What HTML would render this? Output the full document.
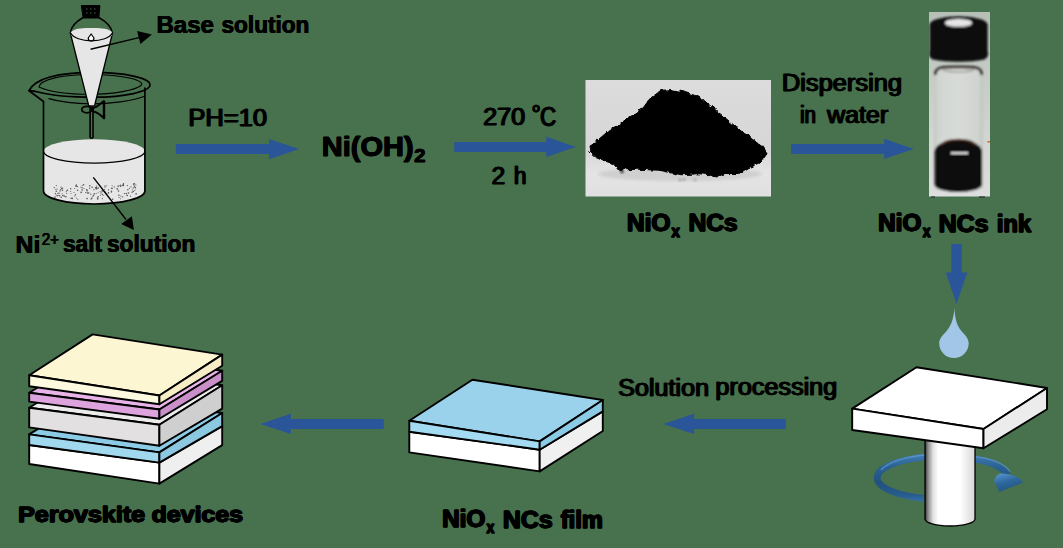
<!DOCTYPE html>
<html>
<head>
<meta charset="utf-8">
<title>NiOx NCs synthesis</title>
<style>
html,body{margin:0;padding:0;background:#48714d;}
body{width:1063px;height:548px;overflow:hidden;font-family:"Liberation Sans",sans-serif;}
svg{display:block;position:absolute;left:0;top:0;}
text{font-family:"Liberation Sans",sans-serif;fill:#000;stroke:#000;stroke-linejoin:round;}
.b{font-weight:bold;}
</style>
</head>
<body>
<svg width="1063" height="548" viewBox="0 0 1063 548">
<defs>
  <filter id="blur1" x="-10%" y="-10%" width="120%" height="120%"><feGaussianBlur stdDeviation="0.8"/></filter>
  <filter id="blur2" x="-10%" y="-10%" width="120%" height="120%"><feGaussianBlur stdDeviation="1.4"/></filter>
  <linearGradient id="photoBg" x1="0" y1="0" x2="0" y2="1">
    <stop offset="0" stop-color="#dcdcdc"/><stop offset="0.6" stop-color="#d6d6d6"/><stop offset="0.8" stop-color="#e4e4e4"/><stop offset="1" stop-color="#e0e0e0"/>
  </linearGradient>
  <linearGradient id="cyl" x1="0" y1="0" x2="1" y2="0">
    <stop offset="0" stop-color="#333"/><stop offset="0.06" stop-color="#8a8a8a"/><stop offset="0.16" stop-color="#e0e0e0"/><stop offset="0.27" stop-color="#ffffff"/><stop offset="0.7" stop-color="#ffffff"/><stop offset="1" stop-color="#d6d6d6"/>
  </linearGradient>
  <linearGradient id="ring" x1="0" y1="0" x2="1" y2="0">
    <stop offset="0" stop-color="#3b7fc0"/><stop offset="0.5" stop-color="#7fb0dc"/><stop offset="1" stop-color="#2d6fb0"/>
  </linearGradient>
  <clipPath id="vialClip"><rect x="929" y="12" width="61" height="185"/></clipPath>
  <filter id="rough" x="-5%" y="-5%" width="110%" height="110%">
    <feTurbulence type="fractalNoise" baseFrequency="0.18" numOctaves="2" seed="3" result="n"/>
    <feDisplacementMap in="SourceGraphic" in2="n" scale="5" xChannelSelector="R" yChannelSelector="G" result="d"/>
    <feGaussianBlur in="d" stdDeviation="0.60"/>
  </filter>
  <linearGradient id="vialBg" x1="0" y1="0" x2="0" y2="1">
    <stop offset="0" stop-color="#b6c0b7"/><stop offset="0.5" stop-color="#cbd0cb"/><stop offset="1" stop-color="#dedede"/>
  </linearGradient>
  <linearGradient id="glass" x1="0" y1="0" x2="1" y2="0">
    <stop offset="0" stop-color="#c2c8c2"/><stop offset="0.1" stop-color="#d2d6d2"/><stop offset="0.5" stop-color="#d8dbd8"/><stop offset="0.9" stop-color="#d0d4d0"/><stop offset="1" stop-color="#bec5be"/>
  </linearGradient>
  <linearGradient id="ringV" gradientUnits="userSpaceOnUse" x1="0" y1="452" x2="0" y2="503">
    <stop offset="0" stop-color="#4580b8"/><stop offset="0.3" stop-color="#296194"/><stop offset="0.6" stop-color="#21517f"/><stop offset="0.85" stop-color="#275c8e"/><stop offset="1" stop-color="#3a75ad"/>
  </linearGradient>
  <linearGradient id="headG" x1="0.2" y1="0" x2="0.6" y2="1">
    <stop offset="0" stop-color="#5592cc"/><stop offset="0.45" stop-color="#2d689e"/><stop offset="1" stop-color="#22527f"/>
  </linearGradient>
</defs>
<rect x="0" y="0" width="1063" height="548" fill="#48714d"/>

<!-- ===== Beaker + funnel ===== -->
<g id="beaker" stroke="#000" stroke-width="1.7" fill="none" stroke-linejoin="round" stroke-linecap="round">
  <!-- liquid -->
  <path d="M43.50 151.50 L43.50 191 A50.70 13 0 0 0 144.90 191 L144.90 151.50 Z" fill="#e6e6e6" stroke="none"/>
  <ellipse cx="94.20" cy="151.30" rx="50.70" ry="12" fill="#e6e6e6" stroke="none"/>
  <path d="M43.50 151.30 A50.70 11.80 0 0 0 144.90 151.30" stroke-width="1.10"/>
  <!-- beaker walls -->
  <path d="M29 90.70 L43.50 101.50 L43.50 191 A50.70 13 0 0 0 144.90 191 L144.90 88"/>
  <!-- rim -->
  <path d="M29 90.60 C 31 86 38 80 50 77 C 65 73 80 72.40 93 72.40 C 125 72.40 150 78 150 84.80 C 150 91.60 125 97.20 93.50 97.20 C 70 97.20 50 95 38 92 C 34 91 31 91 29 90.60 Z"/>
  <path d="M39 87 C 50 92 70 94.30 90 94.30 C 115 94.30 135 90 141 85.50 C 146 81 125 74.50 91 74.50 C 60 74.50 40 80 39 87 Z" stroke-width="1.10"/>
  <path d="M49 98.70 C 60 102 75 103.80 91.50 103.80 C 110 103.80 132 101 144 96.50" stroke-width="1.30"/>
</g>
<g id="funnel" stroke="#000" stroke-width="1.50" fill="none" stroke-linejoin="round">
  <path d="M83.20 17.50 C 77 21 71 26 70.30 33 M98.80 17.50 C 105 21 111.50 26 112.50 33"/>
  <path d="M70.30 33 L 88.80 106 L 94.50 106 L 112.50 33 Z" fill="#e6e6e6" stroke-width="1.30"/>
  <ellipse cx="91.50" cy="34.30" rx="20.60" ry="6.40" fill="#e6e6e6" stroke="none"/>
  <path d="M70.60 33 C 72 28.50 82 27.90 91.50 27.90 C 101 27.90 111 28.50 112.30 33" stroke="none" fill="#e6e6e6"/>
  <path d="M70.60 33 C 73 38 82 40.80 91.50 40.80 C 101 40.80 110 38 112.30 33" stroke-width="1.20"/>
  <path d="M81.30 5.50 L99.90 5.50 L98.80 18 L83.20 18 Z" fill="#000" stroke="#000" stroke-width="1"/>
  <path d="M86 9 L97 9 M86 13 L97 13" stroke="#48714d" stroke-width="0.90" stroke-dasharray="1.50 2.50"/>
  <path d="M91.10 34 L94 38 A2.90 2.90 0 1 1 88.20 38 Z" fill="#fff" stroke-width="1.20"/>
  <!-- stopcock -->
  <path d="M90.10 107 L90.10 138 M93 107 L93 138 M90.10 138 L93 138" stroke-width="1.60"/>
  <ellipse cx="86.80" cy="109.60" rx="5" ry="3.20" stroke-width="1.80" fill="none"/>
  <path d="M93 108 C 96 108 99 105 104 101 L 104 118.50 C 100 114 97 112 93 111.50 Z" fill="none" stroke-width="1.80"/>
  <path d="M104 101 L104 118.50" stroke-width="2.40"/>
</g>
<!-- dots in beaker -->
<g id="dots" fill="#555"><circle cx="80.9" cy="186.9" r="0.5"/><circle cx="60.0" cy="190.9" r="0.7"/><circle cx="102.4" cy="198.6" r="0.6"/><circle cx="57.1" cy="189.0" r="0.5"/><circle cx="74.0" cy="192.5" r="0.5"/><circle cx="122.6" cy="185.5" r="0.6"/><circle cx="106.3" cy="193.5" r="0.5"/><circle cx="101.9" cy="190.9" r="0.6"/><circle cx="57.9" cy="195.5" r="0.7"/><circle cx="88.8" cy="193.0" r="0.7"/><circle cx="100.5" cy="195.2" r="0.5"/><circle cx="102.3" cy="194.5" r="0.7"/><circle cx="62.1" cy="193.8" r="0.5"/><circle cx="105.4" cy="192.3" r="0.8"/><circle cx="118.5" cy="191.0" r="0.8"/><circle cx="84.0" cy="188.5" r="0.6"/><circle cx="112.0" cy="188.2" r="0.7"/><circle cx="97.6" cy="198.1" r="0.8"/><circle cx="77.9" cy="199.2" r="0.5"/><circle cx="96.5" cy="187.5" r="0.7"/><circle cx="66.6" cy="190.9" r="0.5"/><circle cx="133.8" cy="183.6" r="0.7"/><circle cx="82.2" cy="190.0" r="0.8"/><circle cx="102.1" cy="191.8" r="0.5"/><circle cx="132.4" cy="189.7" r="0.5"/><circle cx="59.0" cy="193.3" r="0.8"/><circle cx="77.6" cy="190.3" r="0.7"/><circle cx="55.9" cy="189.3" r="0.6"/><circle cx="104.7" cy="192.2" r="0.6"/><circle cx="117.8" cy="186.0" r="0.6"/><circle cx="87.0" cy="198.6" r="0.8"/><circle cx="60.7" cy="189.7" r="0.7"/><circle cx="127.3" cy="195.5" r="0.7"/><circle cx="112.6" cy="199.3" r="0.8"/><circle cx="133.5" cy="184.7" r="0.6"/><circle cx="66.6" cy="193.5" r="0.5"/><circle cx="94.3" cy="193.8" r="0.7"/><circle cx="77.4" cy="186.6" r="0.7"/><circle cx="104.6" cy="189.6" r="0.6"/><circle cx="111.3" cy="192.3" r="0.5"/><circle cx="91.9" cy="198.0" r="0.8"/><circle cx="87.0" cy="190.8" r="0.8"/><circle cx="106.6" cy="185.7" r="0.5"/><circle cx="135.7" cy="188.7" r="0.5"/><circle cx="82.2" cy="185.5" r="0.5"/><circle cx="101.0" cy="193.0" r="0.7"/><circle cx="104.9" cy="185.9" r="0.6"/><circle cx="105.0" cy="187.1" r="0.7"/><circle cx="133.3" cy="191.5" r="0.8"/><circle cx="64.2" cy="196.1" r="0.8"/><circle cx="93.9" cy="189.7" r="0.6"/><circle cx="62.5" cy="188.3" r="0.7"/><circle cx="93.7" cy="195.4" r="0.5"/><circle cx="71.0" cy="198.3" r="0.7"/><circle cx="66.2" cy="191.7" r="0.5"/><circle cx="116.9" cy="188.6" r="0.5"/><circle cx="111.8" cy="188.4" r="0.7"/><circle cx="129.4" cy="188.3" r="0.6"/><circle cx="98.2" cy="196.7" r="0.7"/><circle cx="106.8" cy="194.0" r="0.6"/><circle cx="120.9" cy="196.1" r="0.6"/><circle cx="70.6" cy="191.4" r="0.5"/><circle cx="136.1" cy="193.9" r="0.8"/><circle cx="75.5" cy="194.7" r="0.7"/><circle cx="91.1" cy="199.0" r="0.7"/><circle cx="133.3" cy="187.9" r="0.6"/><circle cx="62.5" cy="190.2" r="0.7"/><circle cx="71.0" cy="193.4" r="0.5"/><circle cx="93.8" cy="194.8" r="0.5"/><circle cx="123.3" cy="185.4" r="0.8"/><circle cx="118.9" cy="195.3" r="0.8"/><circle cx="127.8" cy="189.7" r="0.7"/><circle cx="61.2" cy="197.2" r="0.8"/><circle cx="92.4" cy="196.1" r="0.5"/><circle cx="114.2" cy="186.9" r="0.6"/><circle cx="56.3" cy="191.3" r="0.8"/><circle cx="120.9" cy="186.0" r="0.8"/><circle cx="108.6" cy="189.9" r="0.6"/><circle cx="55.8" cy="194.3" r="0.5"/><circle cx="97.7" cy="199.0" r="0.8"/><circle cx="135.9" cy="185.0" r="0.6"/><circle cx="56.3" cy="185.6" r="0.6"/><circle cx="117.4" cy="189.0" r="0.8"/><circle cx="123.2" cy="184.5" r="0.7"/><circle cx="128.5" cy="193.0" r="0.8"/><circle cx="122.7" cy="196.9" r="0.6"/><circle cx="98.1" cy="192.8" r="0.5"/><circle cx="126.4" cy="194.9" r="0.5"/><circle cx="118.4" cy="186.3" r="0.6"/><circle cx="93.3" cy="195.9" r="0.5"/><circle cx="81.1" cy="192.4" r="0.8"/><circle cx="119.1" cy="185.6" r="0.5"/><circle cx="74.6" cy="188.4" r="0.5"/><circle cx="96.1" cy="193.4" r="0.5"/><circle cx="90.8" cy="194.2" r="0.6"/><circle cx="111.5" cy="191.3" r="0.8"/><circle cx="96.1" cy="188.7" r="0.7"/><circle cx="130.6" cy="196.2" r="0.6"/><circle cx="123.7" cy="185.6" r="0.5"/><circle cx="86.6" cy="189.6" r="0.6"/><circle cx="89.6" cy="188.1" r="0.7"/><circle cx="119.1" cy="197.5" r="0.6"/><circle cx="132.0" cy="192.3" r="0.7"/><circle cx="65.9" cy="196.8" r="0.8"/><circle cx="72.2" cy="198.4" r="0.8"/><circle cx="127.4" cy="185.6" r="0.6"/><circle cx="67.4" cy="190.2" r="0.8"/><circle cx="82.1" cy="187.7" r="0.7"/><circle cx="61.7" cy="188.6" r="0.7"/><circle cx="100.0" cy="191.6" r="0.5"/><circle cx="85.9" cy="192.6" r="0.7"/><circle cx="96.5" cy="186.0" r="0.6"/><circle cx="134.7" cy="183.9" r="0.7"/><circle cx="76.6" cy="198.0" r="0.6"/><circle cx="76.4" cy="186.3" r="0.8"/><circle cx="124.5" cy="193.6" r="0.7"/><circle cx="87.7" cy="193.0" r="0.8"/><circle cx="112.1" cy="185.8" r="0.5"/><circle cx="120.4" cy="186.6" r="0.5"/><circle cx="76.3" cy="184.6" r="0.5"/><circle cx="120.5" cy="185.1" r="0.6"/><circle cx="59.5" cy="195.8" r="0.8"/><circle cx="55.0" cy="197.1" r="0.8"/><circle cx="130.9" cy="186.8" r="0.6"/><circle cx="57.6" cy="193.2" r="0.5"/><circle cx="134.4" cy="186.2" r="0.6"/><circle cx="70.7" cy="188.7" r="0.7"/><circle cx="98.1" cy="188.1" r="0.8"/><circle cx="95.5" cy="187.7" r="0.7"/><circle cx="120.7" cy="198.8" r="0.5"/><circle cx="55.3" cy="193.3" r="0.6"/><circle cx="96.7" cy="188.7" r="0.8"/><circle cx="62.8" cy="195.5" r="0.8"/><circle cx="108.5" cy="192.9" r="0.8"/><circle cx="134.5" cy="186.9" r="0.6"/><circle cx="135.5" cy="187.3" r="0.6"/><circle cx="87.6" cy="190.1" r="0.5"/><circle cx="123.5" cy="183.8" r="0.7"/><circle cx="89.8" cy="185.8" r="0.8"/><circle cx="126.3" cy="193.4" r="0.7"/><circle cx="103.7" cy="195.3" r="0.5"/><circle cx="92.1" cy="187.3" r="0.8"/><circle cx="54.3" cy="187.6" r="0.7"/><circle cx="134.7" cy="190.5" r="0.6"/><circle cx="56.9" cy="195.7" r="0.6"/><circle cx="83.6" cy="184.8" r="0.8"/><circle cx="61.0" cy="187.2" r="0.6"/><circle cx="74.6" cy="195.9" r="0.5"/><circle cx="75.9" cy="185.7" r="0.8"/><circle cx="102.7" cy="190.8" r="0.7"/></g>
<!-- pointer arrows -->
<g stroke="#000" stroke-width="1.40" fill="#000">
  <line x1="90.60" y1="49.30" x2="140" y2="37.40"/>
  <path d="M151.90 34.50 L137.10 31 L140.40 44 Z" stroke="none"/>
  <line x1="93.30" y1="177.40" x2="126" y2="219.50"/>
  <path d="M133.90 229.90 L121.20 224 L131.90 216.30 Z" stroke="none"/>
</g>

<!-- ===== Arrow 1 ===== -->
<path d="M175.9 144.05 L269 144.05 L269 138.95 L299 149.05 L269 159.15 L269 154.05 L175.9 154.05 Z" fill="#2a5599"/>


<!-- ===== Arrow 2 ===== -->
<path d="M454.2 141.95 L546.2 141.95 L546.2 136.85 L575.9 146.95 L546.2 157.05 L546.2 151.95 L454.2 151.95 Z" fill="#2a5599"/>

<!-- ===== Powder photo ===== -->
<g id="powder">
  <rect x="585.50" y="80" width="185.50" height="116.50" fill="url(#photoBg)"/>
  <ellipse cx="680" cy="174" rx="82" ry="7" fill="#cfcfcf" filter="url(#blur2)"/>
  <g filter="url(#rough)">
  <path d="M589 146 L595 142.5 L609 130.5 L627 119 L643 108 L650 98.5 L661 90.5 L671.5 89.5 L687 92.8 L701 97.5 L710 105.5 L723 116 L736.5 127.3 L750 137.5 L762 146.5 L767 153.7 L761 162 L748 168 L739 173.5 L725 173.5 L716.8 177 L708 174.5 L698.6 173.8 L680.3 174.8 L659.8 170.3 L637 169.2 L622 170 L608.4 162.3 L595 156.6 L590 152 Z" fill="#060606" stroke="#060606" stroke-width="1" stroke-linejoin="round"/>
  </g>
  <g fill="#111" filter="url(#blur1)">
    <circle cx="680" cy="180" r="0.80"/><circle cx="684" cy="179.50" r="0.70"/><circle cx="695" cy="180" r="0.70"/><circle cx="622" cy="171.50" r="1.60"/>
  </g>
</g>

<!-- ===== Arrow 3 ===== -->
<path d="M791 143.9 L884.1 143.9 L884.1 138.8 L913.8 148.9 L884.1 159.0 L884.1 153.9 L791 153.9 Z" fill="#2a5599"/>

<!-- ===== Vial ===== -->
<g id="vial">
  <rect x="929" y="12" width="61" height="184.50" fill="url(#vialBg)"/>
  <g filter="url(#blur1)" clip-path="url(#vialClip)">
    <path d="M934 74 C 934 64 983 64 983 74 L983 186 C 983 195 934 195 934 186 Z" fill="url(#glass)"/>
    <path d="M935.50 75 C 934.50 66 946 67 958.50 67 C 971 67 982.50 66 981.50 75" fill="none" stroke="#2e2622" stroke-width="3" opacity="0.90"/>
    <path d="M943 70 C 950 72.50 967 72.50 974 70" fill="none" stroke="#8a847e" stroke-width="1.50" opacity="0.70"/>
    <path d="M934.50 152 C 934.50 136 982 136 982 152 L982 184 C 982 194.50 934.50 194.50 934.50 184 Z" fill="#0b0908"/>
    <path d="M941 145.50 C 946 138 971 138 976 145.50" fill="none" stroke="#4a2c1c" stroke-width="2.20"/>
    <rect x="951" y="152.20" width="17" height="1.90" fill="#f4f4f4"/>
    <path d="M929.60 25 C 929.60 13.50 987.70 13.50 987.70 25 L987.70 51 C 989 54.50 987.50 58.50 984 59.50 C 970 62.50 947 62.50 933 59.50 C 929.80 58.50 928.30 54.50 929.60 51 Z" fill="#0a0a0a"/>
    <ellipse cx="958.50" cy="22.90" rx="13.50" ry="4" fill="#e6e6e6"/>
    <path d="M946 24.50 C 950 27 967 27 971 24.50" fill="none" stroke="#b0b0b0" stroke-width="1.20"/>
  </g>
  <rect x="987.30" y="141" width="2.70" height="1.60" fill="#e07020"/>
  <rect x="931" y="196.50" width="4" height="1" fill="#222"/><rect x="979" y="196.50" width="6" height="1" fill="#222"/>
</g>

<!-- ===== Down arrow + droplet ===== -->
<path d="M951.30 244.10 L961.80 244.10 L961.80 272.40 L967.30 272.40 L956.50 304 L945.80 272.40 L951.30 272.40 Z" fill="#2a5599"/>
<path d="M954.50 308.20 C 955 320 957.50 326 961 330.50 C 965 335 968.70 338.50 968.70 343.30 A 14.75 14.75 0 1 1 939.20 343.30 C 939.20 338.50 943 335 947 330.50 C 950.50 326 953.50 320 954.50 308.20 Z" fill="#a2c6e8"/>

<!-- ===== Spin coater ===== -->
<g id="spin" stroke="#000" stroke-width="1.90" stroke-linejoin="round">
  <!-- ring back -->
  <g fill="none" stroke-linecap="butt">
    <path d="M 927 456.80 A 68.50 21.80 0 0 0 923.50 498.40" stroke="url(#ringV)" stroke-width="6.60"/>
    <path d="M 927 454.80 A 70 23 0 0 0 881 470" stroke="#6ba5d8" stroke-width="1.50" opacity="0.55"/>
    <path d="M 973 459 C 990 461 1002 466 1007.50 475" stroke="url(#ringV)" stroke-width="7.20"/>
    <path d="M 973 456.40 C 990 458.20 1004 463 1010 471.50" stroke="#6ba5d8" stroke-width="1.40" opacity="0.55"/>
  </g>
  <path d="M994 480.70 C 995.50 476 998.50 473.50 1002 473.60 C 1007 473.70 1011.50 475 1015.80 476.50 C 1019.50 478 1022 480 1023 482.60 L999.30 492 Z" fill="url(#headG)" stroke="none"/>
  <!-- cylinder -->
  <path d="M925 438 L925 519 A25 7 0 0 0 975 519 L975 445 Z" fill="url(#cyl)" stroke-width="1.30"/>
  <!-- plate -->
  <path d="M852.20 408.60 L916.50 367.30 L1047 388 L983.50 429 Z" fill="#ffffff"/>
  <path d="M852.20 408.60 L983.50 429 L983.50 448.20 L852.20 430 Z" fill="#ffffff"/>
  <path d="M983.50 429 L1047 388 L1047 409.30 L983.50 448.20 Z" fill="#ececec"/>
</g>

<!-- ===== Arrow 4 ===== -->
<path d="M785.7 418.9 L694 418.9 L694 413.80 L663.4 423.9 L694 434.0 L694 428.9 L785.7 428.9 Z" fill="#2a5599"/>

<!-- ===== Film slab ===== -->
<g id="film" stroke="#000" stroke-width="1.90" stroke-linejoin="round">
  <path d="M409.30 431.70 L539.70 449.70 L539.70 471.40 L409.30 452.40 Z" fill="#ffffff"/>
  <path d="M539.70 449.70 L602.80 411.40 L602.80 431 L539.70 471.40 Z" fill="#f0f0f0"/>
  <path d="M409.30 420.70 L472.40 379.70 L602.80 400 L539.70 441.40 Z" fill="#9ad2ec"/>
  <path d="M409.30 420.70 L539.70 441.40 L539.70 449.70 L409.30 431.70 Z" fill="#a3dcf2"/>
  <path d="M539.70 441.40 L602.80 400 L602.80 411.40 L539.70 449.70 Z" fill="#8ccbe6"/>
</g>

<!-- ===== Arrow 5 ===== -->
<path d="M383.8 418.9 L290.9 418.9 L290.9 413.80 L260.2 423.9 L290.9 434.0 L290.9 428.9 L383.8 428.9 Z" fill="#2a5599"/>

<!-- ===== Perovskite stack ===== -->
<g id="stack" stroke="#000" stroke-width="1.90" stroke-linejoin="round">
  <path d="M29.2 445 L92.6 408.5 L222.2 426.1 L159.4 462.6 Z" fill="#ffffff"/>
  <path d="M29.2 445 L159.4 462.6 L159.4 483.6 L29.2 464 Z" fill="#ffffff"/>
  <path d="M159.4 462.6 L222.2 426.1 L222.2 445.1 L159.4 483.6 Z" fill="#efefef"/>
  <path d="M29.2 434.4 L92.6 395.0 L222.2 413 L159.4 452.4 Z" fill="#8ccbe6"/>
  <path d="M29.2 434.4 L159.4 452.4 L159.4 462.6 L29.2 445 Z" fill="#a0d8ee"/>
  <path d="M159.4 452.4 L222.2 413 L222.2 426.1 L159.4 462.6 Z" fill="#8cc8e0"/>
  <path d="M29.2 407.7 L92.6 368.3 L222.2 385.3 L159.4 424.7 Z" fill="#ececec"/>
  <path d="M29.2 407.7 L159.4 424.7 L159.4 445.7 L29.2 427.4 Z" fill="#e2e0e0"/>
  <path d="M159.4 424.7 L222.2 385.3 L222.2 408.6 L159.4 445.7 Z" fill="#cfcfcf"/>
  <path d="M29.2 392.8 L92.6 354.0 L222.2 370.7 L159.4 409.5 Z" fill="#e8b4e8"/>
  <path d="M29.2 392.8 L159.4 409.5 L159.4 418.8 L29.2 401.6 Z" fill="#dda3dd"/>
  <path d="M159.4 409.5 L222.2 370.7 L222.2 380.9 L159.4 418.8 Z" fill="#c98fc9"/>
  <path d="M29.2 375.3 L92.6 334.4 L222.2 354.6 L159.4 395.5 Z" fill="#fdf6d3"/>
  <path d="M29.2 375.3 L159.4 395.5 L159.4 404.2 L29.2 386.3 Z" fill="#fefadf"/>
  <path d="M159.4 395.5 L222.2 354.6 L222.2 365.7 L159.4 404.2 Z" fill="#f6edc6"/>
</g>
<text x="156.17" y="33.24" font-size="23.3" font-weight="bold" stroke-width="0.2" textLength="57.63" lengthAdjust="spacingAndGlyphs">Base</text>
<text x="156.42" y="33.24" font-size="23.3" font-weight="bold" stroke-width="0.2" textLength="57.63" lengthAdjust="spacingAndGlyphs">Base</text>
<text x="156.67" y="33.24" font-size="23.3" font-weight="bold" stroke-width="0.2" textLength="57.63" lengthAdjust="spacingAndGlyphs">Base</text>
<text x="221.20" y="33.24" font-size="23.3" font-weight="bold" stroke-width="0.2" textLength="87.99" lengthAdjust="spacingAndGlyphs">solution</text>
<text x="221.45" y="33.24" font-size="23.3" font-weight="bold" stroke-width="0.2" textLength="87.99" lengthAdjust="spacingAndGlyphs">solution</text>
<text x="221.70" y="33.24" font-size="23.3" font-weight="bold" stroke-width="0.2" textLength="87.99" lengthAdjust="spacingAndGlyphs">solution</text>
<text x="15.38" y="252.68" font-size="23.3" font-weight="bold" stroke-width="0.2" textLength="24.82" lengthAdjust="spacingAndGlyphs">Ni</text>
<text x="15.63" y="252.68" font-size="23.3" font-weight="bold" stroke-width="0.2" textLength="24.82" lengthAdjust="spacingAndGlyphs">Ni</text>
<text x="15.88" y="252.68" font-size="23.3" font-weight="bold" stroke-width="0.2" textLength="24.82" lengthAdjust="spacingAndGlyphs">Ni</text>
<text x="41.47" y="245.18" font-size="16" stroke-width="0.2" textLength="17.07" lengthAdjust="spacingAndGlyphs">2+</text>
<text x="41.82" y="245.18" font-size="16" stroke-width="0.2" textLength="17.07" lengthAdjust="spacingAndGlyphs">2+</text>
<text x="42.17" y="245.18" font-size="16" stroke-width="0.2" textLength="17.07" lengthAdjust="spacingAndGlyphs">2+</text>
<text x="62.63" y="252.45" font-size="23.3" font-weight="bold" stroke-width="0.2" textLength="39.28" lengthAdjust="spacingAndGlyphs">salt</text>
<text x="62.88" y="252.45" font-size="23.3" font-weight="bold" stroke-width="0.2" textLength="39.28" lengthAdjust="spacingAndGlyphs">salt</text>
<text x="63.13" y="252.45" font-size="23.3" font-weight="bold" stroke-width="0.2" textLength="39.28" lengthAdjust="spacingAndGlyphs">salt</text>
<text x="106.63" y="252.45" font-size="23.3" font-weight="bold" stroke-width="0.2" textLength="88.55" lengthAdjust="spacingAndGlyphs">solution</text>
<text x="106.88" y="252.45" font-size="23.3" font-weight="bold" stroke-width="0.2" textLength="88.55" lengthAdjust="spacingAndGlyphs">solution</text>
<text x="107.13" y="252.45" font-size="23.3" font-weight="bold" stroke-width="0.2" textLength="88.55" lengthAdjust="spacingAndGlyphs">solution</text>
<text x="187.87" y="125.98" font-size="23.3" stroke-width="0.3" textLength="78.55" lengthAdjust="spacingAndGlyphs">PH=10</text>
<text x="188.49" y="125.98" font-size="23.3" stroke-width="0.3" textLength="78.55" lengthAdjust="spacingAndGlyphs">PH=10</text>
<text x="189.11" y="125.98" font-size="23.3" stroke-width="0.3" textLength="78.55" lengthAdjust="spacingAndGlyphs">PH=10</text>
<text x="321.56" y="155.65" font-size="28" font-weight="bold" stroke-width="0.5" textLength="91.72" lengthAdjust="spacingAndGlyphs">Ni(OH)</text>
<text x="321.84" y="155.65" font-size="28" font-weight="bold" stroke-width="0.5" textLength="91.72" lengthAdjust="spacingAndGlyphs">Ni(OH)</text>
<text x="322.12" y="155.65" font-size="28" font-weight="bold" stroke-width="0.5" textLength="91.72" lengthAdjust="spacingAndGlyphs">Ni(OH)</text>
<text x="413.91" y="161.96" font-size="18" font-weight="bold" stroke-width="0.5" textLength="11.14" lengthAdjust="spacingAndGlyphs">2</text>
<text x="414.19" y="161.96" font-size="18" font-weight="bold" stroke-width="0.5" textLength="11.14" lengthAdjust="spacingAndGlyphs">2</text>
<text x="414.47" y="161.96" font-size="18" font-weight="bold" stroke-width="0.5" textLength="11.14" lengthAdjust="spacingAndGlyphs">2</text>
<text x="482.62" y="124.98" font-size="23.3" stroke-width="0.3" textLength="42.01" lengthAdjust="spacingAndGlyphs">270</text>
<text x="483.24" y="124.98" font-size="23.3" stroke-width="0.3" textLength="42.01" lengthAdjust="spacingAndGlyphs">270</text>
<text x="483.86" y="124.98" font-size="23.3" stroke-width="0.3" textLength="42.01" lengthAdjust="spacingAndGlyphs">270</text>
<text x="530.90" y="124.05" font-size="26.9" stroke-width="0.3" textLength="9.07" lengthAdjust="spacingAndGlyphs">°</text>
<text x="531.52" y="124.05" font-size="26.9" stroke-width="0.3" textLength="9.07" lengthAdjust="spacingAndGlyphs">°</text>
<text x="532.14" y="124.05" font-size="26.9" stroke-width="0.3" textLength="9.07" lengthAdjust="spacingAndGlyphs">°</text>
<text x="539.45" y="125.90" font-size="27" stroke-width="0.3" textLength="16.03" lengthAdjust="spacingAndGlyphs">C</text>
<text x="540.07" y="125.90" font-size="27" stroke-width="0.3" textLength="16.03" lengthAdjust="spacingAndGlyphs">C</text>
<text x="540.69" y="125.90" font-size="27" stroke-width="0.3" textLength="16.03" lengthAdjust="spacingAndGlyphs">C</text>
<text x="490.91" y="183.85" font-size="23.3" stroke-width="0.3" textLength="13.59" lengthAdjust="spacingAndGlyphs">2</text>
<text x="491.53" y="183.85" font-size="23.3" stroke-width="0.3" textLength="13.59" lengthAdjust="spacingAndGlyphs">2</text>
<text x="492.15" y="183.85" font-size="23.3" stroke-width="0.3" textLength="13.59" lengthAdjust="spacingAndGlyphs">2</text>
<text x="513.17" y="183.85" font-size="23.3" stroke-width="0.3" textLength="12.63" lengthAdjust="spacingAndGlyphs">h</text>
<text x="513.79" y="183.85" font-size="23.3" stroke-width="0.3" textLength="12.63" lengthAdjust="spacingAndGlyphs">h</text>
<text x="514.41" y="183.85" font-size="23.3" stroke-width="0.3" textLength="12.63" lengthAdjust="spacingAndGlyphs">h</text>
<text x="626.55" y="231.00" font-size="23.3" font-weight="bold" stroke-width="0.8" textLength="43.60" lengthAdjust="spacingAndGlyphs">NiO</text>
<text x="626.93" y="231.00" font-size="23.3" font-weight="bold" stroke-width="0.8" textLength="43.60" lengthAdjust="spacingAndGlyphs">NiO</text>
<text x="627.31" y="231.00" font-size="23.3" font-weight="bold" stroke-width="0.8" textLength="43.60" lengthAdjust="spacingAndGlyphs">NiO</text>
<text x="671.20" y="236.81" font-size="16" font-weight="bold" stroke-width="0.8" textLength="8.14" lengthAdjust="spacingAndGlyphs">x</text>
<text x="671.58" y="236.81" font-size="16" font-weight="bold" stroke-width="0.8" textLength="8.14" lengthAdjust="spacingAndGlyphs">x</text>
<text x="671.96" y="236.81" font-size="16" font-weight="bold" stroke-width="0.8" textLength="8.14" lengthAdjust="spacingAndGlyphs">x</text>
<text x="688.20" y="231.15" font-size="23.3" font-weight="bold" stroke-width="0.8" textLength="49.02" lengthAdjust="spacingAndGlyphs">NCs</text>
<text x="688.58" y="231.15" font-size="23.3" font-weight="bold" stroke-width="0.8" textLength="49.02" lengthAdjust="spacingAndGlyphs">NCs</text>
<text x="688.96" y="231.15" font-size="23.3" font-weight="bold" stroke-width="0.8" textLength="49.02" lengthAdjust="spacingAndGlyphs">NCs</text>
<text x="781.22" y="91.25" font-size="23.3" stroke-width="0.3" textLength="120.22" lengthAdjust="spacingAndGlyphs">Dispersing</text>
<text x="781.84" y="91.25" font-size="23.3" stroke-width="0.3" textLength="120.22" lengthAdjust="spacingAndGlyphs">Dispersing</text>
<text x="782.46" y="91.25" font-size="23.3" stroke-width="0.3" textLength="120.22" lengthAdjust="spacingAndGlyphs">Dispersing</text>
<text x="799.40" y="123.21" font-size="23.3" stroke-width="0.3" textLength="15.82" lengthAdjust="spacingAndGlyphs">in</text>
<text x="800.02" y="123.21" font-size="23.3" stroke-width="0.3" textLength="15.82" lengthAdjust="spacingAndGlyphs">in</text>
<text x="800.64" y="123.21" font-size="23.3" stroke-width="0.3" textLength="15.82" lengthAdjust="spacingAndGlyphs">in</text>
<text x="826.53" y="122.98" font-size="23.3" stroke-width="0.3" textLength="61.00" lengthAdjust="spacingAndGlyphs">water</text>
<text x="827.15" y="122.98" font-size="23.3" stroke-width="0.3" textLength="61.00" lengthAdjust="spacingAndGlyphs">water</text>
<text x="827.77" y="122.98" font-size="23.3" stroke-width="0.3" textLength="61.00" lengthAdjust="spacingAndGlyphs">water</text>
<text x="877.70" y="231.30" font-size="23.3" font-weight="bold" stroke-width="0.8" textLength="43.31" lengthAdjust="spacingAndGlyphs">NiO</text>
<text x="878.08" y="231.30" font-size="23.3" font-weight="bold" stroke-width="0.8" textLength="43.31" lengthAdjust="spacingAndGlyphs">NiO</text>
<text x="878.46" y="231.30" font-size="23.3" font-weight="bold" stroke-width="0.8" textLength="43.31" lengthAdjust="spacingAndGlyphs">NiO</text>
<text x="922.49" y="237.10" font-size="16" font-weight="bold" stroke-width="0.8" textLength="7.56" lengthAdjust="spacingAndGlyphs">x</text>
<text x="922.87" y="237.10" font-size="16" font-weight="bold" stroke-width="0.8" textLength="7.56" lengthAdjust="spacingAndGlyphs">x</text>
<text x="923.25" y="237.10" font-size="16" font-weight="bold" stroke-width="0.8" textLength="7.56" lengthAdjust="spacingAndGlyphs">x</text>
<text x="938.35" y="231.58" font-size="23.3" font-weight="bold" stroke-width="0.8" textLength="49.81" lengthAdjust="spacingAndGlyphs">NCs</text>
<text x="938.73" y="231.58" font-size="23.3" font-weight="bold" stroke-width="0.8" textLength="49.81" lengthAdjust="spacingAndGlyphs">NCs</text>
<text x="939.11" y="231.58" font-size="23.3" font-weight="bold" stroke-width="0.8" textLength="49.81" lengthAdjust="spacingAndGlyphs">NCs</text>
<text x="996.49" y="231.81" font-size="23.3" font-weight="bold" stroke-width="0.8" textLength="34.26" lengthAdjust="spacingAndGlyphs">ink</text>
<text x="996.87" y="231.81" font-size="23.3" font-weight="bold" stroke-width="0.8" textLength="34.26" lengthAdjust="spacingAndGlyphs">ink</text>
<text x="997.25" y="231.81" font-size="23.3" font-weight="bold" stroke-width="0.8" textLength="34.26" lengthAdjust="spacingAndGlyphs">ink</text>
<text x="617.48" y="395.69" font-size="23.3" stroke-width="0.3" textLength="90.97" lengthAdjust="spacingAndGlyphs">Solution</text>
<text x="618.10" y="395.69" font-size="23.3" stroke-width="0.3" textLength="90.97" lengthAdjust="spacingAndGlyphs">Solution</text>
<text x="618.72" y="395.69" font-size="23.3" stroke-width="0.3" textLength="90.97" lengthAdjust="spacingAndGlyphs">Solution</text>
<text x="714.75" y="395.45" font-size="23.3" stroke-width="0.3" textLength="121.90" lengthAdjust="spacingAndGlyphs">processing</text>
<text x="715.37" y="395.45" font-size="23.3" stroke-width="0.3" textLength="121.90" lengthAdjust="spacingAndGlyphs">processing</text>
<text x="715.99" y="395.45" font-size="23.3" stroke-width="0.3" textLength="121.90" lengthAdjust="spacingAndGlyphs">processing</text>
<text x="441.70" y="527.40" font-size="23.3" font-weight="bold" stroke-width="0.8" textLength="43.25" lengthAdjust="spacingAndGlyphs">NiO</text>
<text x="442.08" y="527.40" font-size="23.3" font-weight="bold" stroke-width="0.8" textLength="43.25" lengthAdjust="spacingAndGlyphs">NiO</text>
<text x="442.46" y="527.40" font-size="23.3" font-weight="bold" stroke-width="0.8" textLength="43.25" lengthAdjust="spacingAndGlyphs">NiO</text>
<text x="486.19" y="533.17" font-size="16" font-weight="bold" stroke-width="0.8" textLength="7.64" lengthAdjust="spacingAndGlyphs">x</text>
<text x="486.57" y="533.17" font-size="16" font-weight="bold" stroke-width="0.8" textLength="7.64" lengthAdjust="spacingAndGlyphs">x</text>
<text x="486.95" y="533.17" font-size="16" font-weight="bold" stroke-width="0.8" textLength="7.64" lengthAdjust="spacingAndGlyphs">x</text>
<text x="502.49" y="527.73" font-size="23.3" font-weight="bold" stroke-width="0.8" textLength="49.81" lengthAdjust="spacingAndGlyphs">NCs</text>
<text x="502.87" y="527.73" font-size="23.3" font-weight="bold" stroke-width="0.8" textLength="49.81" lengthAdjust="spacingAndGlyphs">NCs</text>
<text x="503.25" y="527.73" font-size="23.3" font-weight="bold" stroke-width="0.8" textLength="49.81" lengthAdjust="spacingAndGlyphs">NCs</text>
<text x="560.47" y="527.96" font-size="23.3" font-weight="bold" stroke-width="0.8" textLength="42.07" lengthAdjust="spacingAndGlyphs">film</text>
<text x="560.85" y="527.96" font-size="23.3" font-weight="bold" stroke-width="0.8" textLength="42.07" lengthAdjust="spacingAndGlyphs">film</text>
<text x="561.23" y="527.96" font-size="23.3" font-weight="bold" stroke-width="0.8" textLength="42.07" lengthAdjust="spacingAndGlyphs">film</text>
<text x="17.70" y="522.44" font-size="22.8" font-weight="bold" stroke-width="0.8" textLength="127.08" lengthAdjust="spacingAndGlyphs">Perovskite</text>
<text x="18.08" y="522.44" font-size="22.8" font-weight="bold" stroke-width="0.8" textLength="127.08" lengthAdjust="spacingAndGlyphs">Perovskite</text>
<text x="18.46" y="522.44" font-size="22.8" font-weight="bold" stroke-width="0.8" textLength="127.08" lengthAdjust="spacingAndGlyphs">Perovskite</text>
<text x="151.23" y="522.44" font-size="22.8" font-weight="bold" stroke-width="0.8" textLength="91.43" lengthAdjust="spacingAndGlyphs">devices</text>
<text x="151.61" y="522.44" font-size="22.8" font-weight="bold" stroke-width="0.8" textLength="91.43" lengthAdjust="spacingAndGlyphs">devices</text>
<text x="151.99" y="522.44" font-size="22.8" font-weight="bold" stroke-width="0.8" textLength="91.43" lengthAdjust="spacingAndGlyphs">devices</text>
</svg>
</body>
</html>
